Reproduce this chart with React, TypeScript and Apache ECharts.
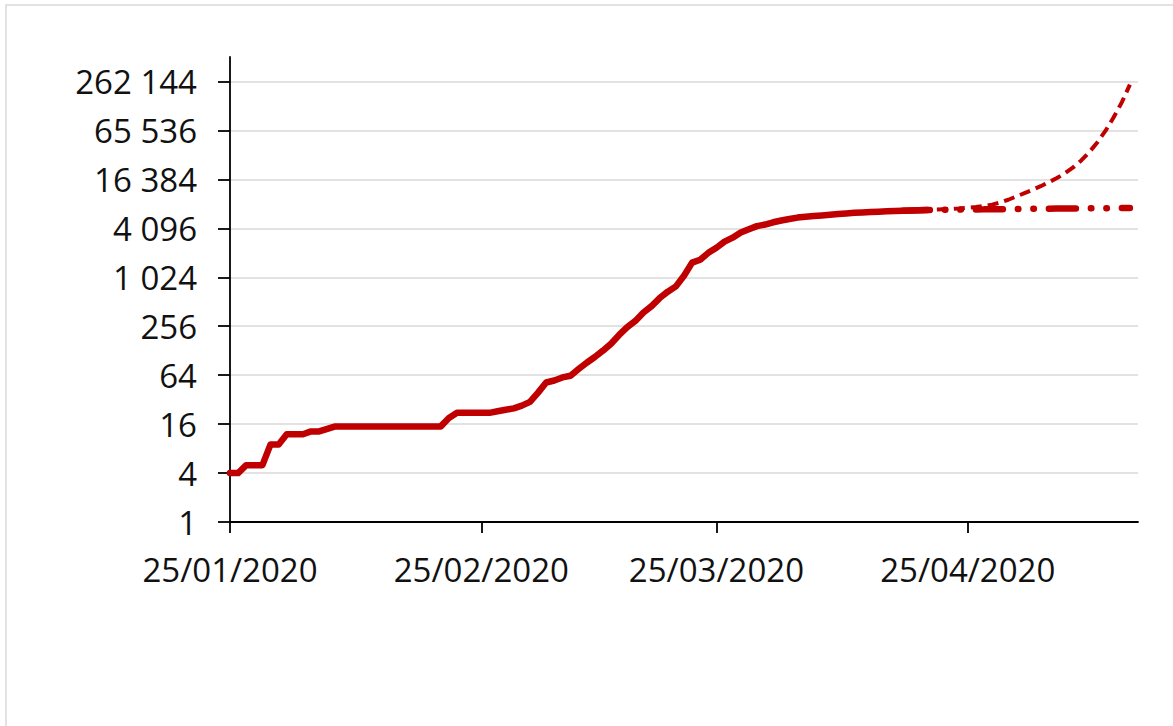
import React, { useEffect, useRef } from "react";
import * as echarts from "echarts";

// Day 0 = 25/01/2020
const startDate = [2020, 0, 25];
const axisEndDate = [2020, 4, 16];

const actualValues = [
  4, 4, 5, 5, 5, 9, 9, 12, 12, 12,
  13, 13, 14, 15, 15, 15, 15, 15, 15, 15,
  15, 15, 15, 15, 15, 15, 15, 19, 22, 22,
  22, 22, 22, 23, 24, 25, 27, 30, 39, 52,
  55, 60, 63, 76, 91, 107, 128, 156, 200, 250,
  297, 377, 452, 568, 681, 791, 1071, 1549, 1682, 2044,
  2364, 2810, 3143, 3640, 3984, 4361, 4559, 4862, 5116, 5330,
  5550, 5687, 5797, 5895, 6010, 6150, 6250, 6350, 6420, 6480,
  6560, 6620, 6680, 6730, 6780, 6830, 6880,
];

const projectionStartDay = 83;

const flatProjection = [
  6730, 6780, 6830, 6880, 6900, 6920, 6940, 6960, 6980, 7000,
  7010, 7030, 7050, 7060, 7080, 7100, 7110, 7130, 7140, 7160,
  7170, 7190, 7200, 7210, 7230, 7240, 7250, 7270, 7280,
];

const exponentialProjection = [
  6730, 6780, 6830, 6880, 6940, 7020, 7100, 7200, 7320, 7480,
  7700, 8000, 8500, 9200, 10100, 11100, 12200, 13500, 15100, 17000,
  19500, 23000, 28000, 35500, 47000, 65000, 95000, 145000, 240000,
];

const yTickValues = [1, 4, 16, 64, 256, 1024, 4096, 16384, 65536, 262144];
const xTickDates = [
  [2020, 0, 25],
  [2020, 1, 25],
  [2020, 2, 25],
  [2020, 3, 25],
];

const RED = "#c00000";
const FONT = "Open Sans";

function dayTs(offset: number) {
  return new Date(startDate[0], startDate[1], startDate[2] + offset).getTime();
}

function toSeries(values: number[], firstDay: number) {
  return values.map((v, i) => [dayTs(firstDay + i), v]);
}

function fmtNum(v: number) {
  const n = Math.round(v);
  return String(n).replace(/\B(?=(\d{3})+(?!\d))/g, " ");
}

function pad(n: number) {
  return n < 10 ? "0" + n : String(n);
}

function fmtDate(v: number) {
  const d = new Date(v);
  return pad(d.getDate()) + "/" + pad(d.getMonth() + 1) + "/" + d.getFullYear();
}

export default function App() {
  const ref = useRef<HTMLDivElement>(null);

  useEffect(() => {
    if (!ref.current) return;
    const chart = echarts.init(ref.current, null, { renderer: "svg" });
    const xTicks = xTickDates.map((d) => new Date(d[0], d[1], d[2]).getTime());
    chart.setOption({
      animation: false,
      backgroundColor: "#ffffff",
      graphic: [
        {
          type: "rect",
          silent: true,
          shape: { x: 6, y: 5, width: 1300, height: 900 },
          style: { fill: "none", stroke: "#d9d9d9", lineWidth: 1.5 },
          z: -1,
        },
      ],
      grid: { left: 230, right: 35, top: 57, bottom: 204, containLabel: false },
      xAxis: {
        type: "value",
        min: dayTs(0),
        max: new Date(axisEndDate[0], axisEndDate[1], axisEndDate[2]).getTime(),
        axisLine: { show: true, lineStyle: { color: "#000", width: 1.8 } },
        axisTick: {
          show: true,
          inside: false,
          length: 11,
          customValues: xTicks,
          lineStyle: { color: "#000", width: 1.8 },
        },
        axisLabel: {
          show: true,
          customValues: xTicks,
          formatter: (v: number) => fmtDate(v),
          margin: 31,
          color: "#111111",
          fontFamily: FONT,
          fontSize: 33,
        },
        splitLine: { show: false },
      },
      yAxis: {
        type: "log",
        logBase: 4,
        min: 1,
        max: 524288,
        axisLine: { show: true, lineStyle: { color: "#000", width: 1.8 } },
        axisTick: {
          show: true,
          inside: false,
          length: 12,
          customValues: yTickValues,
          lineStyle: { color: "#000", width: 1.8 },
        },
        axisLabel: {
          show: true,
          customValues: yTickValues,
          formatter: (v: number) => fmtNum(v),
          margin: 33,
          color: "#111111",
          fontFamily: FONT,
          fontSize: 33,
        },
        splitLine: { show: true, lineStyle: { color: "#d9d9d9", width: 1.5 } },
      },
      series: [
        {
          name: "Exponential projection",
          type: "line",
          data: toSeries(exponentialProjection, projectionStartDay),
          showSymbol: false,
          symbol: "none",
          lineStyle: { color: RED, width: 4, type: [11, 6], cap: "butt" },
          z: 2,
        },
        {
          name: "Flat projection",
          type: "line",
          data: toSeries(flatProjection, projectionStartDay),
          showSymbol: false,
          symbol: "none",
          lineStyle: {
            color: RED,
            width: 6.5,
            type: [27, 15, 0.5, 15, 0.5, 15],
            cap: "round",
          },
          z: 3,
        },
        {
          name: "Actual",
          type: "line",
          data: toSeries(actualValues, 0),
          showSymbol: false,
          symbol: "none",
          lineStyle: { color: RED, width: 6.5, cap: "round", join: "round" },
          z: 4,
        },
      ],
    });
    return () => chart.dispose();
  }, []);

  return (
    <div
      ref={ref}
      style={{ position: "absolute", left: 0, top: 0, width: 1173, height: 726 }}
    />
  );
}
